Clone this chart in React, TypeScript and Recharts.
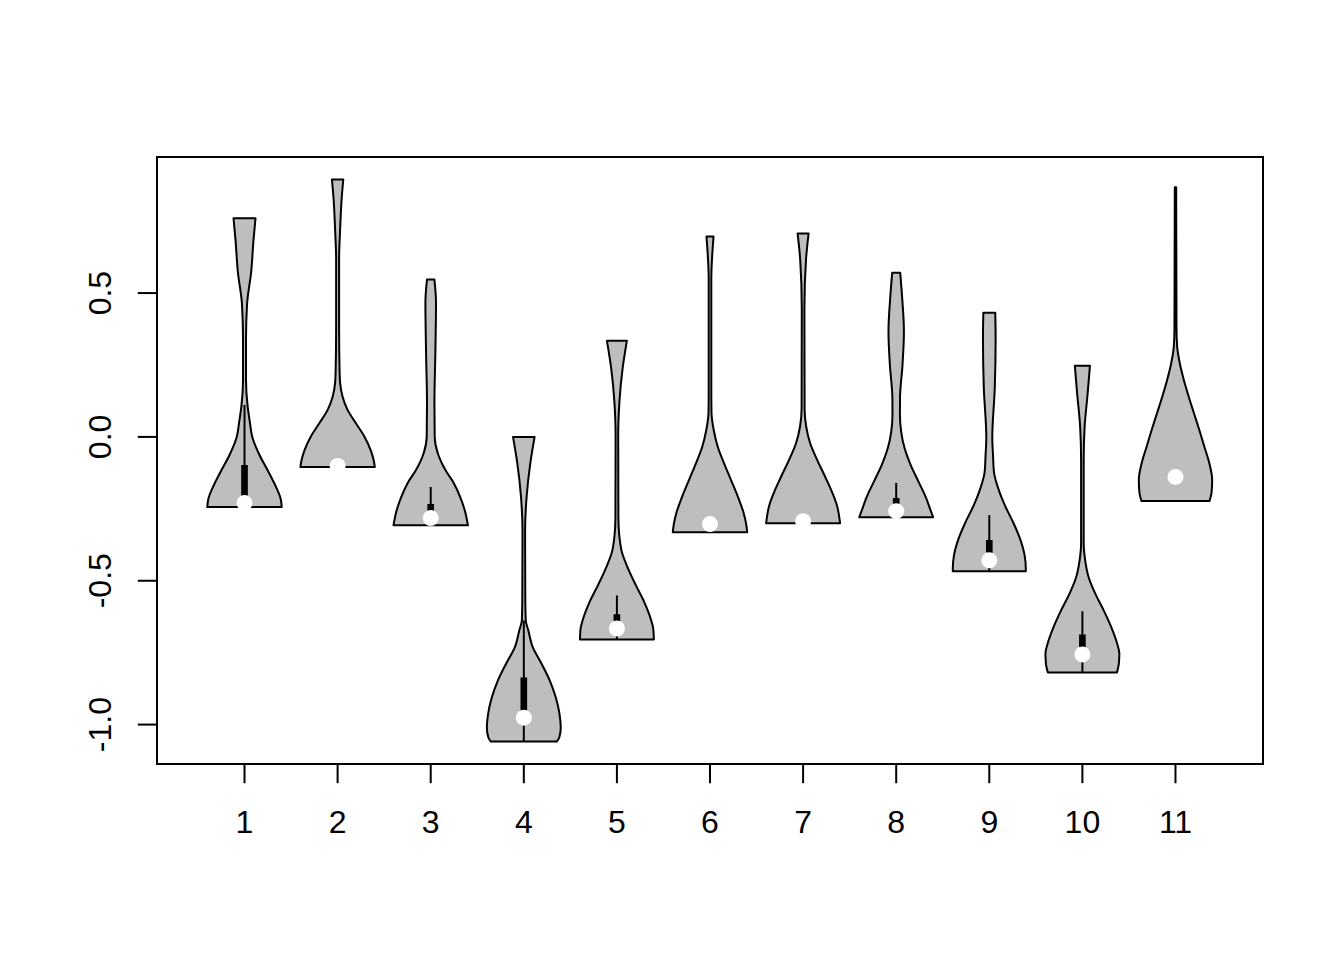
import React from 'react';
import { ComposedChart, Scatter, XAxis, YAxis, ReferenceArea } from 'recharts';

// ---- data ----
const categories = [1, 2, 3, 4, 5, 6, 7, 8, 9, 10, 11];
const xTickLabels = ['1', '2', '3', '4', '5', '6', '7', '8', '9', '10', '11'];
const yTicks = [-1, -0.5, 0, 0.5];
const yTickLabels = ['-1.0', '-0.5', '0.0', '0.5'];

// violin outlines: [value, half-width in x units], from max (top) to min (bottom)
const violin1 = [[0.76, 0.118], [0.686, 0.097], [0.575, 0.072], [0.46, 0.027], [0.338, 0.016], [0.199, 0.016], [0.111, 0.032], [0.052, 0.057], [-0.003, 0.086], [-0.063, 0.161], [-0.122, 0.258], [-0.178, 0.344], [-0.213, 0.387], [-0.244, 0.4]];
const violin2 = [[0.895, 0.061], [0.826, 0.043], [0.721, 0.027], [0.617, 0.016], [0.373, 0.016], [0.233, 0.021], [0.188, 0.027], [0.139, 0.054], [0.094, 0.107], [0.049, 0.193], [0.0, 0.29], [-0.045, 0.354], [-0.08, 0.387], [-0.105, 0.4]];
const violin3 = [[0.547, 0.04], [0.467, 0.057], [0.293, 0.05], [0.118, 0.04], [0.0, 0.043], [-0.056, 0.075], [-0.115, 0.158], [-0.16, 0.247], [-0.209, 0.317], [-0.254, 0.365], [-0.307, 0.4]];
const violin4 = [[0.0, 0.116], [-0.091, 0.07], [-0.209, 0.03], [-0.324, 0.014], [-0.557, 0.016], [-0.638, 0.021], [-0.672, 0.048], [-0.732, 0.097], [-0.787, 0.188], [-0.847, 0.279], [-0.906, 0.344], [-0.962, 0.383], [-1.01, 0.397], [-1.045, 0.381], [-1.059, 0.354]];
const violin5 = [[0.334, 0.107], [0.24, 0.062], [0.122, 0.027], [0.007, 0.014], [-0.282, 0.016], [-0.341, 0.025], [-0.401, 0.054], [-0.456, 0.118], [-0.516, 0.204], [-0.575, 0.295], [-0.631, 0.362], [-0.666, 0.39], [-0.704, 0.397]];
const violin6 = [[0.697, 0.038], [0.547, 0.014], [0.15, 0.014], [0.084, 0.016], [0.024, 0.04], [-0.035, 0.084], [-0.091, 0.15], [-0.15, 0.226], [-0.209, 0.301], [-0.265, 0.362], [-0.3, 0.387], [-0.331, 0.4]];
const violin7 = [[0.707, 0.059], [0.62, 0.032], [0.446, 0.014], [0.098, 0.016], [0.038, 0.032], [-0.021, 0.075], [-0.077, 0.147], [-0.136, 0.233], [-0.195, 0.315], [-0.24, 0.365], [-0.3, 0.397]];
const violin8 = [[0.571, 0.043], [0.484, 0.064], [0.366, 0.083], [0.251, 0.068], [0.136, 0.041], [0.077, 0.04], [0.017, 0.054], [-0.038, 0.089], [-0.098, 0.156], [-0.157, 0.242], [-0.213, 0.322], [-0.261, 0.376], [-0.279, 0.397]];
const violin9 = [[0.432, 0.064], [0.345, 0.068], [0.171, 0.059], [-0.003, 0.032], [-0.063, 0.04], [-0.122, 0.05], [-0.178, 0.095], [-0.237, 0.166], [-0.296, 0.255], [-0.352, 0.328], [-0.411, 0.379], [-0.456, 0.392], [-0.467, 0.392]];
const violin10 = [[0.247, 0.081], [0.153, 0.057], [0.035, 0.024], [-0.08, 0.014], [-0.369, 0.014], [-0.429, 0.03], [-0.488, 0.067], [-0.544, 0.137], [-0.603, 0.229], [-0.662, 0.311], [-0.718, 0.373], [-0.753, 0.397], [-0.787, 0.392], [-0.819, 0.371]];
const violin11 = [[0.868, 0.0075], [0.373, 0.011], [0.314, 0.018], [0.258, 0.045], [0.199, 0.089], [0.139, 0.143], [0.084, 0.197], [0.024, 0.256], [-0.035, 0.311], [-0.091, 0.363], [-0.15, 0.394], [-0.195, 0.387], [-0.223, 0.365]];

const medians = [-0.23, -0.101, -0.282, -0.976, -0.666, -0.303, -0.293, -0.258, -0.429, -0.756, -0.139];
const q1 = [-0.238, -0.104, -0.268, -0.958, -0.662, -0.31, -0.298, -0.244, -0.401, -0.735, -0.145];
const q3 = [-0.101, -0.098, -0.237, -0.84, -0.62, -0.297, -0.288, -0.216, -0.362, -0.69, -0.133];
const whiskerLow = [-0.244, -0.105, -0.307, -1.059, -0.704, -0.331, -0.3, -0.279, -0.467, -0.819, -0.15];
const whiskerHigh = [0.111, -0.095, -0.174, -0.638, -0.551, -0.29, -0.285, -0.16, -0.272, -0.606, -0.13];

// ---- layout / style ----
const violins = [violin1, violin2, violin3, violin4, violin5, violin6, violin7, violin8, violin9, violin10, violin11];
const BOX_HALF = 0.025;
const FONT = '"Liberation Sans", Arial, Helvetica, sans-serif';

function outline(center: number, prof: number[][]) {
  const left = prof.map(([y, w]) => ({ x: center - w, y }));
  const right = prof.slice().reverse().map(([y, w]) => ({ x: center + w, y }));
  return [...left, ...right];
}

function rectPts(c: number, lo: number, hi: number) {
  return [
    { x: c - BOX_HALF, y: lo },
    { x: c + BOX_HALF, y: lo },
    { x: c + BOX_HALF, y: hi },
    { x: c - BOX_HALF, y: hi },
    { x: c - BOX_HALF, y: lo },
  ];
}

// monotone cubic (x as a function of pixel y) through already-scaled points
function monoSide(pts: { x: number; y: number }[]) {
  const n = pts.length;
  if (n < 2) return '';
  const h: number[] = [];
  const s: number[] = [];
  for (let k = 0; k < n - 1; k++) {
    h[k] = pts[k + 1].y - pts[k].y;
    s[k] = h[k] === 0 ? 0 : (pts[k + 1].x - pts[k].x) / h[k];
  }
  const m: number[] = new Array(n).fill(0);
  for (let k = 1; k < n - 1; k++) {
    const h0 = h[k - 1], h1 = h[k], s0 = s[k - 1], s1 = s[k];
    const p = (s0 * h1 + s1 * h0) / (h0 + h1);
    m[k] = (Math.sign(s0) + Math.sign(s1)) * Math.min(Math.abs(s0), Math.abs(s1), 0.5 * Math.abs(p)) || 0;
  }
  m[0] = n > 2 ? (3 * s[0] - m[1]) / 2 : s[0];
  m[n - 1] = n > 2 ? (3 * s[n - 2] - m[n - 2]) / 2 : s[n - 2];
  let d = '';
  for (let k = 0; k < n - 1; k++) {
    const a = pts[k], b = pts[k + 1], hk = h[k];
    d += ` C ${a.x + (m[k] * hk) / 3} ${a.y + hk / 3} ${b.x - (m[k + 1] * hk) / 3} ${b.y - hk / 3} ${b.x} ${b.y}`;
  }
  return d;
}

const violinLine = (n: number) => (lp: any) => {
  const pts = (lp.points || []) as { x: number; y: number }[];
  if (pts.length < 2 * n) return <g />;
  const left = pts.slice(0, n);
  const right = pts.slice(n, 2 * n);
  const d = `M ${left[0].x} ${left[0].y}` + monoSide(left) + ` L ${right[0].x} ${right[0].y}` + monoSide(right) + ' Z';
  return <path d={d} fill="#BEBEBE" stroke="#000" strokeWidth={2} strokeLinejoin="round" />;
};

const noShape = () => <g />;

const XTick = (p: any) => {
  const idx = categories.indexOf(p.payload.value);
  return (
    <text x={p.x} y={p.y + 50} textAnchor="middle" fontSize={32} fontFamily={FONT} fill="#000">
      {idx >= 0 ? xTickLabels[idx] : String(p.payload.value)}
    </text>
  );
};

const YTick = (p: any) => {
  const idx = yTicks.indexOf(p.payload.value);
  const bx = p.x - 26.4;
  return (
    <text x={bx} y={p.y} transform={`rotate(-90 ${bx} ${p.y})`} textAnchor="middle" fontSize={32} fontFamily={FONT} fill="#000">
      {idx >= 0 ? yTickLabels[idx] : String(p.payload.value)}
    </text>
  );
};

const medianData = categories.map((c, i) => ({ x: c, y: medians[i] }));

export default function App() {
  return (
    <div style={{ position: 'absolute', left: 0, top: 0, width: 1344, height: 960, background: '#fff' }}>
      <ComposedChart width={1344} height={960} margin={{ top: 157, right: 81, left: 97, bottom: 136 }}>
        <XAxis
          type="number"
          dataKey="x"
          domain={[0.06, 11.94]}
          ticks={categories}
          allowDataOverflow
          height={60}
          axisLine={false}
          tickLine={{ stroke: '#000', strokeWidth: 2 }}
          tickSize={19.2}
          tickMargin={0}
          tick={<XTick />}
          interval={0}
        />
        <YAxis
          type="number"
          dataKey="y"
          domain={[-1.137, 0.973]}
          ticks={yTicks}
          allowDataOverflow
          width={60}
          axisLine={false}
          tickLine={{ stroke: '#000', strokeWidth: 2 }}
          tickSize={19.2}
          tickMargin={0}
          tick={<YTick />}
          interval={0}
        />
        <ReferenceArea x1={0.06} x2={11.94} y1={-1.137} y2={0.973} fill="none" stroke="#000" strokeWidth={2} ifOverflow="visible" />
        {violins.map((v, i) => (
          <Scatter
            key={`v${i}`}
            data={outline(categories[i], v)}
            shape={noShape}
            line={violinLine(v.length)}
            isAnimationActive={false}
          />
        ))}
        {categories.map((c, i) => (
          <Scatter
            key={`w${i}`}
            data={[{ x: c, y: whiskerLow[i] }, { x: c, y: whiskerHigh[i] }]}
            shape={noShape}
            line={{ stroke: '#000', strokeWidth: 2, fill: 'none' }}
            isAnimationActive={false}
          />
        ))}
        {categories.map((c, i) => (
          <Scatter
            key={`b${i}`}
            data={rectPts(c, q1[i], q3[i])}
            shape={noShape}
            line={{ stroke: '#000', strokeWidth: 2, fill: '#000' }}
            isAnimationActive={false}
          />
        ))}
        <Scatter
          data={medianData}
          shape={(p: any) => <circle cx={p.cx} cy={p.cy} r={8} fill="#fff" />}
          isAnimationActive={false}
        />
      </ComposedChart>
    </div>
  );
}
